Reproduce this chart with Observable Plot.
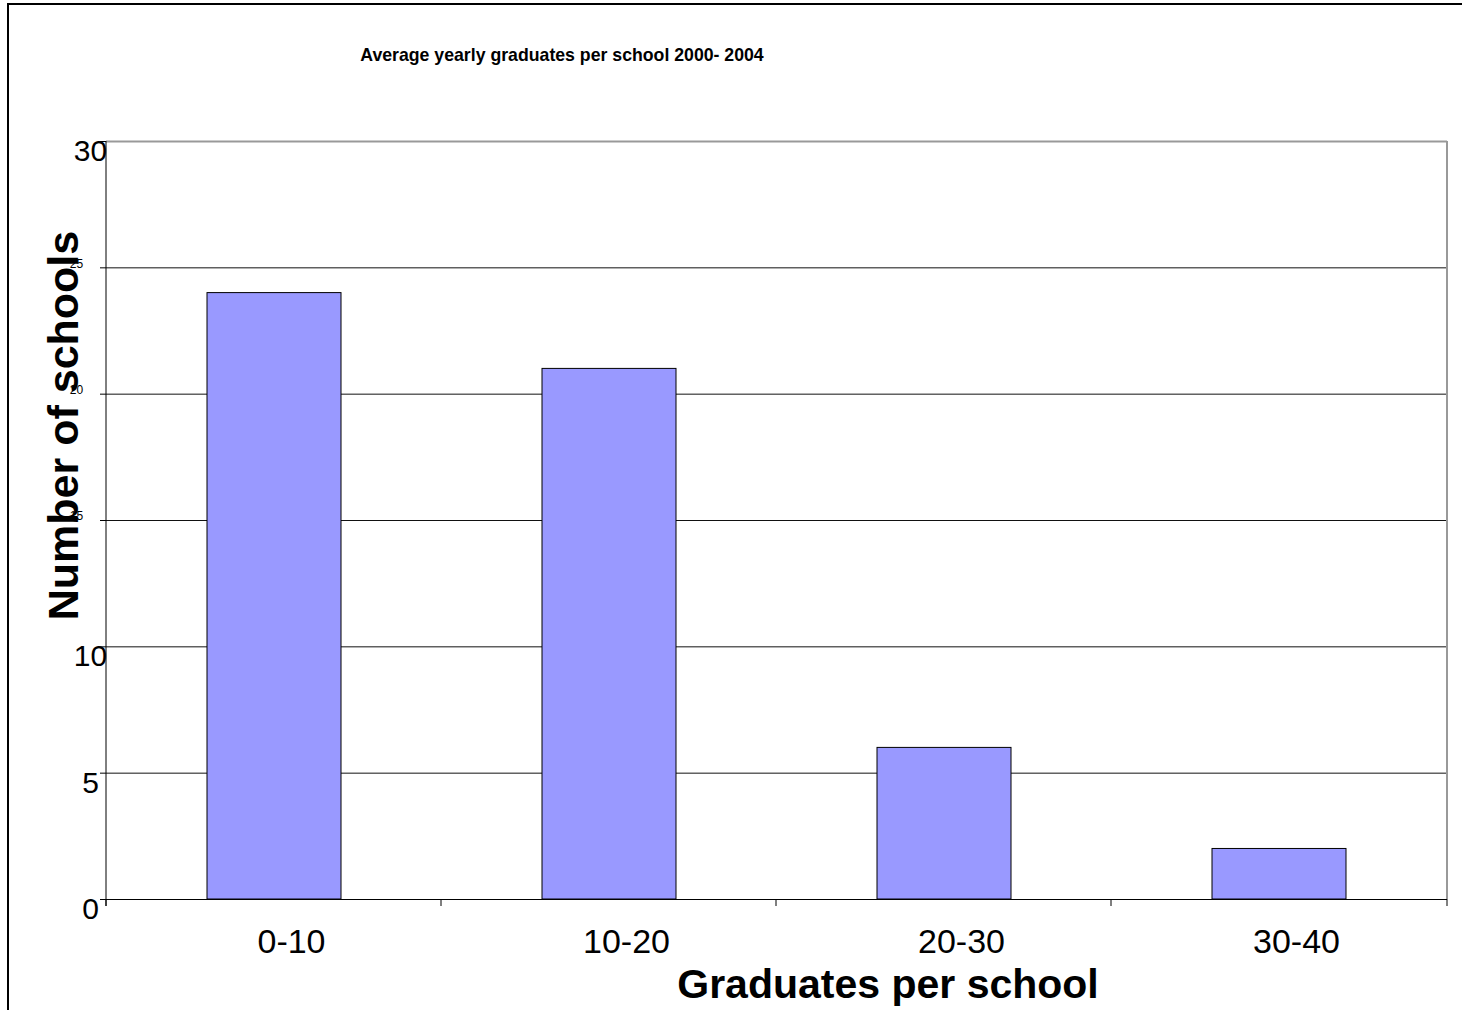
<!DOCTYPE html>
<html>
<head>
<meta charset="utf-8">
<script src="https://cdn.jsdelivr.net/npm/d3@7"></script>
<script src="https://cdn.jsdelivr.net/npm/@observablehq/plot@0.6"></script>
<style>
  html, body { margin: 0; padding: 0; background: #fff; }
  #wrap { position: relative; width: 1462px; height: 1010px; overflow: hidden; }
  #border { position: absolute; left: 7px; top: 3px; width: 1500px; height: 1100px;
            border-left: 2px solid #000; border-top: 2px solid #000; pointer-events: none; }
  svg { font-family: "Liberation Sans", Arial, sans-serif; }
</style>
</head>
<body>
<div id="wrap"><div id="border"></div></div>
<script>
const categories = ["0-10", "10-20", "20-30", "30-40"];
const counts = [24, 21, 6, 2];
const bigTicks = [0, 5, 10, 30];
const smallTicks = [15, 20, 25];
const gridTicks = [5, 10, 15, 20, 25];
const allTicks = [0, 5, 10, 15, 20, 25, 30];
const title = "Average yearly graduates per school 2000- 2004";
const xTitle = "Graduates per school";
const yTitle = "Number of schools";

const data = categories.map((c, i) => ({cat: c, n: counts[i]}));

const frameExtras = (index, scales, values, dims) => {
  const g = d3.create("svg:g");
  const x = scales.x;
  const top = dims.marginTop, bottom = dims.height - dims.marginBottom;
  const left = dims.marginLeft, right = dims.width - dims.marginRight;
  const outer = x(categories[0]) - left;
  const bounds = categories.map(c => x(c) - outer).concat([right]);
  for (const b of bounds) {
    g.append("line").attr("x1", b).attr("x2", b).attr("y1", bottom).attr("y2", bottom + 7)
      .attr("stroke", "#000").attr("stroke-width", 1);
  }
  g.append("line").attr("x1", right).attr("x2", right).attr("y1", top).attr("y2", bottom)
    .attr("stroke", "#999").attr("stroke-width", 2);
  g.append("line").attr("x1", left).attr("x2", left).attr("y1", top).attr("y2", bottom + 7)
    .attr("stroke", "#000").attr("stroke-width", 1);
  return g.node();
};

const chart = Plot.plot({
  width: 1462,
  height: 1010,
  marginLeft: 106,
  marginRight: 15,
  marginTop: 141,
  marginBottom: 111,
  style: {fontFamily: '"Liberation Sans", Arial, sans-serif', color: "#000", background: "transparent"},
  x: {domain: categories, paddingInner: 0.6, paddingOuter: 0.3},
  y: {domain: [0, 30]},
  marks: [
    Plot.gridY({ticks: gridTicks, stroke: "#111", strokeOpacity: 1, strokeWidth: 1}),
    Plot.ruleY([30], {stroke: "#999", strokeWidth: 2}),
    Plot.barY(data, {x: "cat", y: "n", fill: "#9999FF", stroke: "#000", strokeWidth: 1}),
    Plot.ruleY([0], {stroke: "#000", strokeWidth: 1}),
    frameExtras,
    Plot.axisY({ticks: allTicks, tickSize: 6, tickFormat: () => "", label: null, stroke: "#000"}),
    Plot.axisY({ticks: bigTicks, tickSize: 0, tickPadding: 16, textAnchor: "middle", fontSize: 30, dy: 10, label: null, fill: "#000"}),
    Plot.axisY({ticks: smallTicks, tickSize: 0, tickPadding: 30, textAnchor: "middle", fontSize: 12, dy: -4, label: null, fill: "#000"}),
    Plot.axisX({tickSize: 0, tickPadding: 29, fontSize: 34, dx: 17, label: null, fill: "#000"}),
    Plot.text([title], {frameAnchor: "top-left", dx: 455.5, dy: -80.5, lineAnchor: "bottom", textAnchor: "middle", fontSize: 17.7, fontWeight: "bold", fill: "#000"}),
    Plot.text([yTitle], {frameAnchor: "left", dx: -29, dy: -95, rotate: -90, lineAnchor: "bottom", textAnchor: "middle", fontSize: 43, fontWeight: "bold", fill: "#000"}),
    Plot.text([xTitle], {frameAnchor: "bottom", dx: 111, dy: 98, lineAnchor: "bottom", textAnchor: "middle", fontSize: 41, fontWeight: "bold", fill: "#000"})
  ]
});
document.getElementById("wrap").insertBefore(chart, document.getElementById("border"));
</script>
</body>
</html>
